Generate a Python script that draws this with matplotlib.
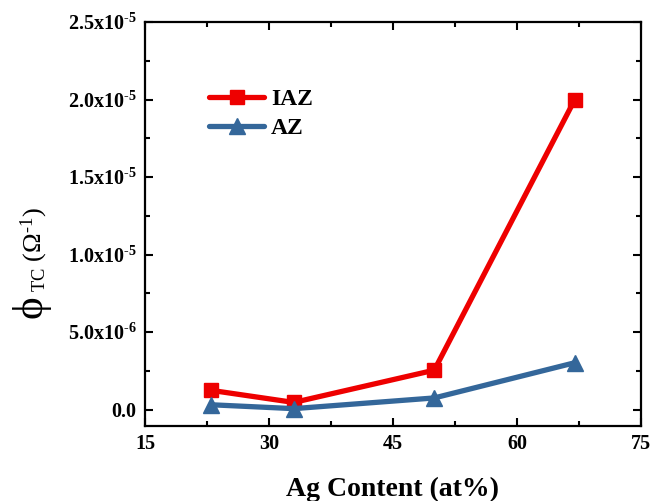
import matplotlib
matplotlib.use("Agg")
import matplotlib.pyplot as plt
from matplotlib.ticker import MultipleLocator, FixedLocator

plt.rcParams['font.family'] = ['Liberation Serif', 'DejaVu Serif']
plt.rcParams['mathtext.fontset'] = 'custom'
plt.rcParams['mathtext.rm'] = 'Liberation Serif'
plt.rcParams['mathtext.it'] = 'Liberation Serif'
plt.rcParams['mathtext.bf'] = 'Liberation Serif:bold'

# data
ag_content = [23, 33, 50, 67]
iaz = [1.25e-6, 0.47e-6, 2.55e-6, 2.0e-5]
az = [0.32e-6, 0.07e-6, 0.76e-6, 3.03e-6]

y_ticks = [0, 5e-6, 1e-5, 1.5e-5, 2e-5, 2.5e-5]
y_labels = ['0.0', r'5.0x10$^{\mathbf{‐6}}$', r'1.0x10$^{\mathbf{‐5}}$',
            r'1.5x10$^{\mathbf{‐5}}$', r'2.0x10$^{\mathbf{‐5}}$',
            r'2.5x10$^{\mathbf{‐5}}$']

W, H = 656, 501
fig = plt.figure(figsize=(W / 100, H / 100), dpi=100)
ax = fig.add_axes([0.221, 0.150, 0.756, 0.806])

ax.plot(ag_content, iaz, color='#EE0000', lw=3.8, marker='s', ms=10,
        solid_capstyle='round', label='IAZ')
ax.plot(ag_content, az, color='#34679A', lw=3.8, marker='^', ms=11,
        solid_capstyle='round', label='AZ')

ax.set_xlim(15, 75)
ax.set_ylim(-1.04e-6, 2.5e-5)
ax.xaxis.set_major_locator(MultipleLocator(15))
ax.xaxis.set_minor_locator(MultipleLocator(7.5))
ax.yaxis.set_major_locator(FixedLocator(y_ticks))
ax.set_yticklabels(y_labels)
ax.yaxis.set_minor_locator(MultipleLocator(2.5e-6))

ax.tick_params(which='both', direction='in', top=True, right=True, width=1.5)
ax.tick_params(which='major', length=6, labelsize=14.5, pad=6)
ax.tick_params(which='minor', length=3.5)
for lab in ax.get_xticklabels() + ax.get_yticklabels():
    lab.set_fontweight('bold')
for s in ax.spines.values():
    s.set_linewidth(1.6)

ax.set_xlabel('Ag Content (at%)', fontsize=20, fontweight='bold', labelpad=16)

# y label: big phi, then subscript and unit
fig.text(42 / W, 1 - 318 / H, 'ϕ', fontsize=31, rotation=90,
         rotation_mode='anchor', ha='left', va='baseline')
fig.text(41 / W, 1 - 292 / H, r'$_{\mathrm{TC}}$ ($\Omega^{‐1}$)', fontsize=19,
         rotation=90, rotation_mode='anchor', ha='left', va='baseline')

leg = ax.legend(loc='upper left', bbox_to_anchor=(0.087, 0.887), frameon=False,
                fontsize=17, handlelength=2.3, handletextpad=0.3, labelspacing=0.3)
for t in leg.get_texts():
    t.set_fontweight('bold')

fig.savefig('out.png', dpi=100)
